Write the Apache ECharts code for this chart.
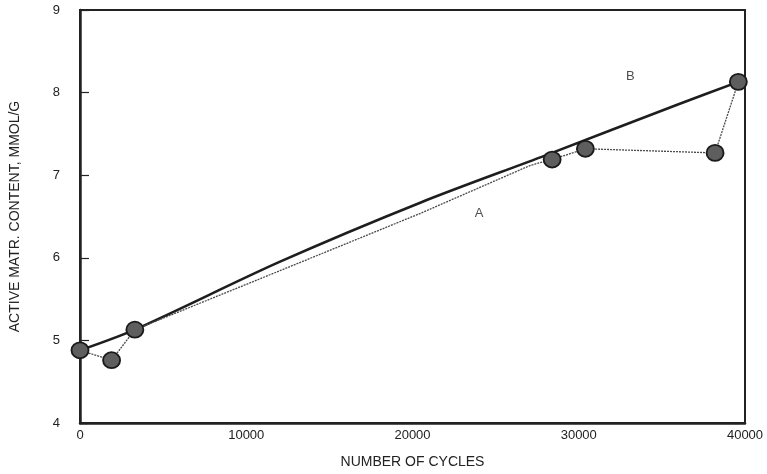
<!DOCTYPE html>
<html>
<head>
<meta charset="utf-8">
<script src="https://cdn.jsdelivr.net/npm/echarts@6/dist/echarts.min.js"></script>
<style>
  html, body { margin: 0; padding: 0; background: #fff; }
  #chart { width: 767px; height: 474px; }
</style>
</head>
<body>
<div id="chart"></div>
<script>
// Curve A: measured active-material content (markers at measured cycles)
const cyclesA = [0, 1900, 3300, 12100, 20500, 27100, 28400, 30400, 38200, 39600];
const contentA = [4.88, 4.76, 5.13, 5.85, 6.54, 7.12, 7.19, 7.32, 7.27, 8.13];
const markedA = [true, true, true, false, false, false, true, true, true, true];

// Curve B: fitted trend
const cyclesB = [0, 3300, 12000, 20500, 28000, 36000, 39600];
const contentB = [4.88, 5.13, 5.95, 6.67, 7.24, 7.86, 8.13];

// Axis ticks
const xTicks = [0, 10000, 20000, 30000, 40000];
const yTicks = [4, 5, 6, 7, 8, 9];

// Curve labels
const curveLabels = [
  { name: 'A', x: 24000, y: 6.54 },
  { name: 'B', x: 33100, y: 8.19 }
];

const font = '"Liberation Sans", Arial, Helvetica, sans-serif';
const ink = '#222';

const dataA = cyclesA.map((c, i) => ({
  value: [c, contentA[i]],
  symbol: markedA[i] ? 'circle' : 'none'
}));
const dataB = cyclesB.map((c, i) => [c, contentB[i]]);

const chart = echarts.init(document.getElementById('chart'), null, { renderer: 'canvas' });
chart.setOption({
  animation: false,
  backgroundColor: '#fff',
  grid: {
    left: 78, right: 22, top: 10, bottom: 51,
    show: true, borderColor: ink, borderWidth: 2, backgroundColor: 'transparent'
  },
  xAxis: {
    type: 'value',
    min: xTicks[0], max: xTicks[xTicks.length - 1], interval: 10000,
    axisLine: { show: true, lineStyle: { color: ink, width: 2.5 } },
    axisTick: { show: false },
    splitLine: { show: false },
    axisLabel: { color: ink, fontFamily: font, fontSize: 13, margin: 6, formatter: v => String(v) },
    name: 'NUMBER OF CYCLES',
    nameLocation: 'middle', nameGap: 32,
    nameTextStyle: { color: ink, fontFamily: font, fontSize: 14 }
  },
  yAxis: {
    type: 'value',
    min: yTicks[0], max: yTicks[yTicks.length - 1], interval: 1,
    axisLine: { show: true, lineStyle: { color: ink, width: 2.5 } },
    axisTick: { show: true, inside: true, length: 9, lineStyle: { color: ink, width: 1.2 } },
    splitLine: { show: false },
    axisLabel: { color: ink, fontFamily: font, fontSize: 13, margin: 20 },
    name: 'ACTIVE MATR. CONTENT, MMOL/G',
    nameLocation: 'middle', nameGap: 58, nameRotate: 90,
    nameTextStyle: { color: ink, fontFamily: font, fontSize: 14 }
  },
  series: [
    {
      name: 'B',
      type: 'line',
      data: dataB,
      symbol: 'none',
      smooth: 0.3,
      lineStyle: { color: '#1e1e1e', width: 2.6 },
      z: 2
    },
    {
      name: 'A',
      type: 'line',
      data: dataA,
      symbolSize: [17, 16],
      lineStyle: { color: '#4a4a4a', width: 1.3, type: [2, 1] },
      itemStyle: { color: '#5e5e5e', borderColor: '#1a1a1a', borderWidth: 1.8 },
      z: 3
    },
    {
      name: 'labels',
      type: 'scatter',
      data: curveLabels.map(d => ({ value: [d.x, d.y], name: d.name })),
      symbolSize: 0,
      label: {
        show: true, position: 'inside', formatter: p => p.name,
        color: ink, fontFamily: font, fontSize: 13
      },
      z: 4
    }
  ]
});
</script>
</body>
</html>
